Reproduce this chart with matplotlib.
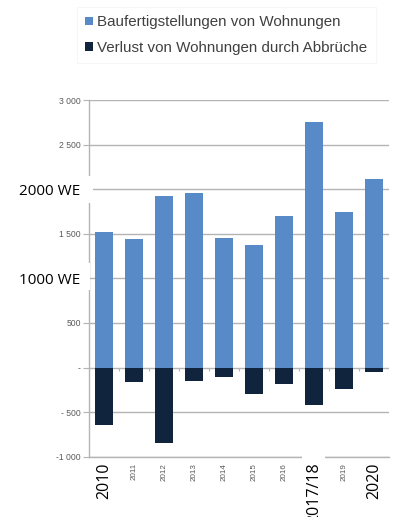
import numpy as np
import matplotlib.pyplot as plt
from matplotlib.patches import Patch, Rectangle

# Wohnungsbau und Abbruch je Jahr
years = ["2010", "2011", "2012", "2013", "2014", "2015", "2016", "2017/18", "2019", "2020"]
completions = [1520, 1440, 1925, 1960, 1450, 1375, 1695, 2750, 1740, 2115]
demolitions = [-650, -160, -850, -150, -110, -300, -190, -415, -245, -50]

y_ticks = [3000, 2500, 2000, 1500, 1000, 500, 0, -500, -1000]
y_labels = ["3 000", "2 500", "2000 WE", "1 500", "1000 WE", "500", "-", "- 500", "-1 000"]
big_y = {"2000 WE", "1000 WE"}
big_x = {"2010", "2017/18", "2020"}

light_blue = "#588AC8"
navy = "#10243E"
grid_grey = "#B4B4B4"
label_grey = "#595959"

W, H = 395, 517
fig = plt.figure(figsize=(W / 100, H / 100), dpi=100)
ax = fig.add_axes([89 / W, (H - 456.7) / H, 300 / W, (456.7 - 100) / H])

x = np.arange(len(years))
ax.bar(x, completions, width=0.62, color=light_blue, zorder=3)
ax.bar(x, demolitions, width=0.62, color=navy, zorder=3)

ax.set_xlim(-0.5, len(years) - 0.5)
ax.set_ylim(-1000, 3000)

ax.set_yticks(y_ticks)
ax.set_yticklabels(y_labels)
ax.yaxis.grid(True, color=grid_grey, linewidth=1.0, zorder=0)
ax.tick_params(axis="y", length=4.5, width=0.8, color=grid_grey, pad=1.5)
for lab in ax.get_yticklabels():
    if lab.get_text() in big_y:
        lab.set_fontsize(11)
        lab.set_fontfamily("Open Sans")
        lab.set_color("black")
    else:
        lab.set_fontsize(6.2)
        lab.set_fontfamily("Liberation Sans")
        lab.set_color(label_grey)

ax.set_xticks(x)
ax.set_xticklabels(years, rotation=90, va="top", ha="center")
ax.tick_params(axis="x", length=0, pad=4.3)
for lab in ax.get_xticklabels():
    if lab.get_text() in big_x:
        lab.set_fontsize(11.5)
        lab.set_fontfamily("Open Sans")
        lab.set_color("black")
    else:
        lab.set_fontsize(5.8)
        lab.set_fontfamily("Liberation Sans")
        lab.set_color(label_grey)

# category separators on the zero line
bounds = np.arange(len(years) + 1) - 0.5
ax.vlines(bounds, -35, 0, color=grid_grey, linewidth=0.8, zorder=2)

for side in ["top", "right"]:
    ax.spines[side].set_visible(False)
ax.spines["left"].set_color(grid_grey)
ax.spines["bottom"].set_color(grid_grey)
ax.spines["left"].set_linewidth(1.0)
ax.spines["bottom"].set_linewidth(1.0)

# white cut-outs behind the enlarged labels
for (x0, y0, x1, y1) in [(82, 176, 92.5, 203), (82, 263, 89.5, 290), (302, 452, 325, 460)]:
    fig.patches.append(Rectangle((x0 / W, 1 - y1 / H), (x1 - x0) / W, (y1 - y0) / H,
                                 transform=fig.transFigure, facecolor="white",
                                 edgecolor="none", zorder=5))

handles = [Patch(facecolor=light_blue), Patch(facecolor=navy)]
leg = fig.legend(handles, ["Baufertigstellungen von Wohnungen",
                           "Verlust von Wohnungen durch Abbrüche"],
                 loc="upper left", bbox_to_anchor=(77 / W, 1 - 7 / H),
                 borderaxespad=0, frameon=True, fancybox=False,
                 handlelength=0.5, handleheight=0.5, handletextpad=0.3,
                 labelspacing=0.75, borderpad=0.55,
                 prop={"family": "Liberation Sans", "size": 10.9})
leg.get_frame().set_edgecolor("#F4F4F4")
leg.get_frame().set_linewidth(0.8)
for t in leg.get_texts():
    t.set_color("#404040")

fig.savefig("out.png", dpi=100)
